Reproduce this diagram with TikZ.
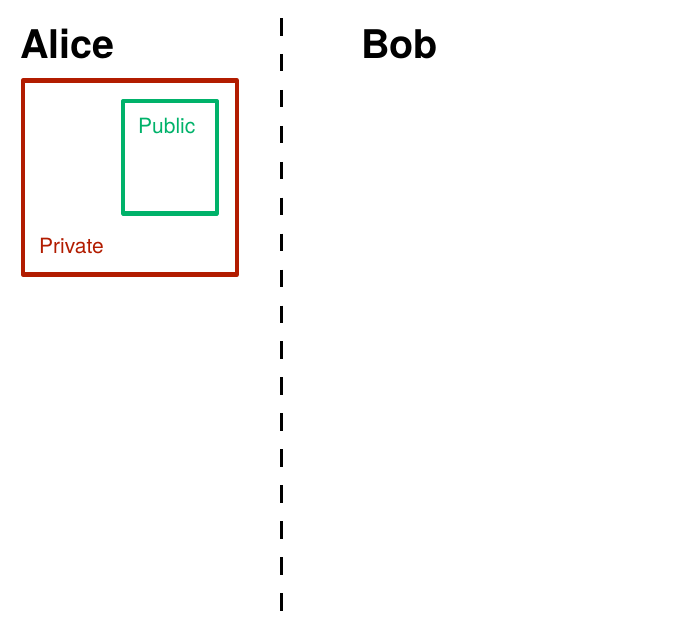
\documentclass[tikz,border=0pt]{standalone}
\usepackage{fontspec}
\setmainfont{TeX Gyre Heros}
\definecolor{privred}{RGB}{178,28,0}
\definecolor{pubgreen}{RGB}{0,178,106}
\begin{document}
\begin{tikzpicture}[x=1pt,y=-1pt,
  title/.style={anchor=base west,inner sep=0pt,font=\fontsize{39.5}{41}\selectfont\bfseries},
  lbl/.style={anchor=base west,inner sep=0pt,font=\fontsize{21}{23}\selectfont},
  boxline/.style={line width=4.3pt,line join=round}]
\useasboundingbox (0,0) rectangle (691,638);
\node[title] (alice) at (20,58) {Alice};
\node[title] (bob) at (361,58) {Bob};
\draw[boxline,privred] (23,80.5) rectangle (237,274.5);
\draw[boxline,pubgreen] (123.3,101) rectangle (216.7,213.5);
\node[lbl,text=pubgreen] (public) at (138,133) {Public};
\node[lbl,text=privred] (private) at (39,253) {Private};
\coordinate (top) at (281,18);
\coordinate (bot) at (281,612);
\draw[line width=3pt,dash pattern=on 17.5pt off 18.44pt] (top) -- (bot);
\end{tikzpicture}
\end{document}
